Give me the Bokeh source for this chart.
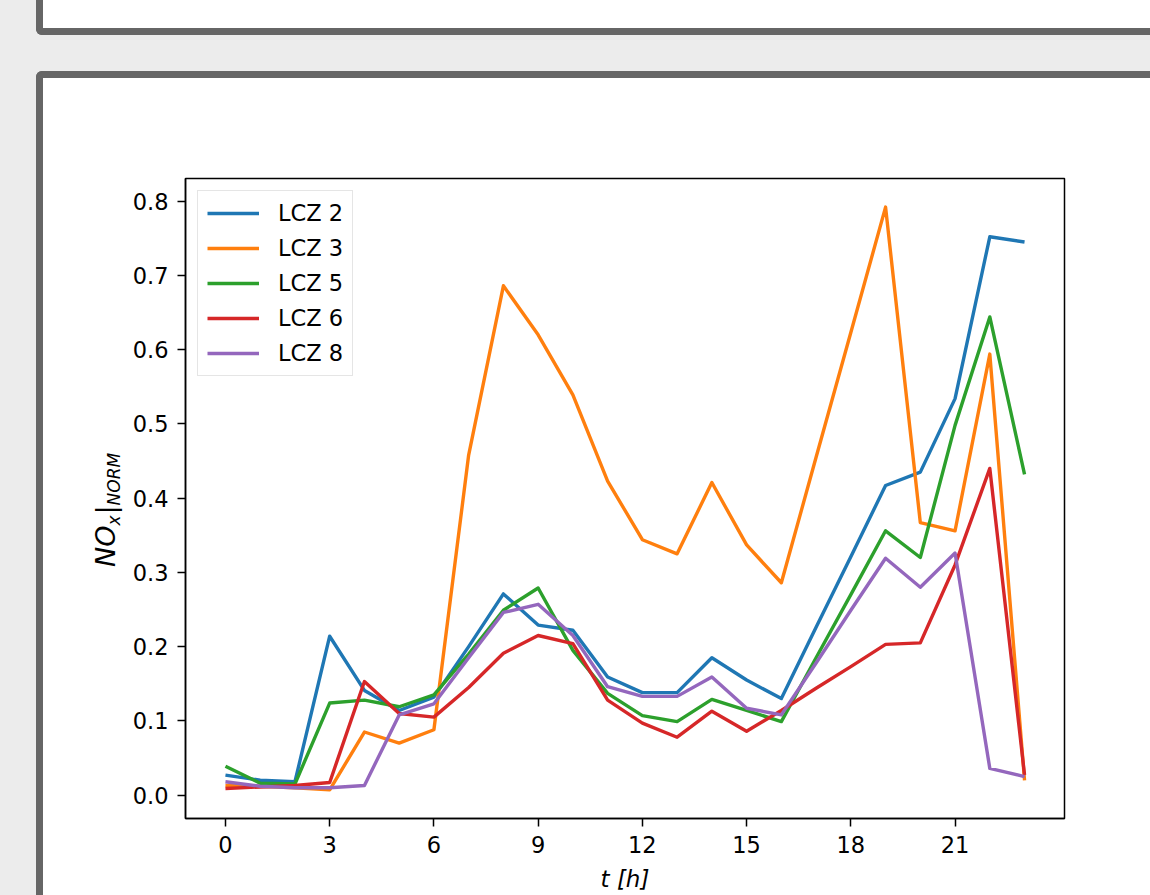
from bokeh.plotting import figure
from bokeh.layouts import column, row
from bokeh.models import (Div, FixedTicker, PrintfTickFormatter, Legend, LegendItem, Range1d)
from bokeh.embed import file_html
from bokeh.resources import INLINE

# ---- data ----
hours = list(range(24))
lcz2 = [0.027, 0.020, 0.018, 0.214, 0.141, 0.114, 0.132, 0.200, 0.271, 0.229, 0.222, 0.159,
        0.138, 0.138, 0.185, 0.155, 0.130, 0.226, 0.321, 0.417, 0.435, 0.534, 0.752, 0.745]
lcz3 = [0.013, 0.012, 0.010, 0.007, 0.085, 0.070, 0.088, 0.458, 0.686, 0.620, 0.539, 0.423,
        0.344, 0.325, 0.421, 0.337, 0.286, 0.455, 0.623, 0.792, 0.367, 0.356, 0.594, 0.020]
lcz5 = [0.039, 0.016, 0.015, 0.124, 0.128, 0.119, 0.135, 0.190, 0.249, 0.279, 0.195, 0.137,
        0.107, 0.099, 0.129, 0.114, 0.099, 0.185, 0.270, 0.356, 0.320, 0.498, 0.644, 0.432]
lcz6 = [0.009, 0.011, 0.013, 0.017, 0.153, 0.110, 0.105, 0.145, 0.191, 0.215, 0.204, 0.128,
        0.097, 0.078, 0.113, 0.086, 0.114, 0.144, 0.173, 0.203, 0.205, 0.310, 0.440, 0.027]
lcz8 = [0.018, 0.012, 0.010, 0.010, 0.013, 0.108, 0.123, 0.185, 0.246, 0.257, 0.215, 0.146,
        0.133, 0.133, 0.159, 0.117, 0.108, 0.178, 0.249, 0.319, 0.280, 0.326, 0.036, 0.025]

series_names = ["LCZ 2", "LCZ 3", "LCZ 5", "LCZ 6", "LCZ 8"]
series_values = [lcz2, lcz3, lcz5, lcz6, lcz8]
series_colors = ["#1f77b4", "#ff7f0e", "#2ca02c", "#d62728", "#9467bd"]

x_ticks = [0, 3, 6, 9, 12, 15, 18, 21]
y_ticks = [0.0, 0.1, 0.2, 0.3, 0.4, 0.5, 0.6, 0.7, 0.8]

W, H = 1150, 895
FONT = "DejaVu Sans"
PAGE_GREY = "#ececec"
FRAME_GREY = "#666666"

TOP_H = 78          # height of the strip above the main card content
LEFT_W = 43         # grey margin + card border on the left
YLAB_W = 82         # white strip holding the y-axis title
FIG_W = W - LEFT_W - YLAB_W
FIG_H = H - TOP_H

# ---- top strip: bottom of the previous card + top border of the main card ----
top_html = (
    f'<div style="position:relative;width:{W}px;height:{TOP_H}px;background:{PAGE_GREY};'
    f'overflow:hidden;margin:0;padding:0;">'
    f'<div style="position:absolute;left:36px;top:-30px;width:1300px;height:65px;'
    f'background:#fff;border-left:7px solid {FRAME_GREY};border-bottom:7px solid {FRAME_GREY};'
    f'border-bottom-left-radius:6px;box-sizing:border-box;"></div>'
    f'<div style="position:absolute;left:36px;top:71px;width:1300px;height:60px;'
    f'background:#fff;border-left:7px solid {FRAME_GREY};border-top:7px solid {FRAME_GREY};'
    f'border-top-left-radius:6px;box-sizing:border-box;"></div>'
    f'</div>'
)
top_div = Div(text=top_html, width=W, height=TOP_H, margin=0)

left_html = (
    f'<div style="width:{LEFT_W}px;height:{FIG_H}px;margin:0;padding:0;'
    f'background:linear-gradient(to right,{PAGE_GREY} 0px,{PAGE_GREY} 36px,'
    f'{FRAME_GREY} 36px,{FRAME_GREY} 43px);"></div>'
)
left_div = Div(text=left_html, width=LEFT_W, height=FIG_H, margin=0)

# ---- y-axis title NO_x |_NORM as real text, rotated ----
ylab_html = (
    f'<div style="position:relative;width:{YLAB_W}px;height:{FIG_H}px;background:#fff;'
    f'margin:0;padding:0;overflow:hidden;">'
    f'<div style="position:absolute;left:49px;top:489px;transform:rotate(-90deg);'
    f'transform-origin:0 0;white-space:nowrap;font-family:\'DejaVu Sans\';font-size:27px;'
    f'line-height:27px;color:#000;">'
    f'<i>NO</i><span style="font-size:17px;position:relative;top:5px;font-style:italic;">x</span>'
    f'<span style="padding-left:1px;">|</span>'
    f'<span style="font-size:17px;position:relative;top:5px;font-style:italic;">NORM</span>'
    f'</div></div>'
)
ylab_div = Div(text=ylab_html, width=YLAB_W, height=FIG_H, margin=0)

# ---- the chart ----
p = figure(width=FIG_W, height=FIG_H, output_backend="svg", toolbar_location=None,
           x_range=Range1d(-1.15, 24.15), y_range=Range1d(-0.0315, 0.8305),
           min_border_left=185 - LEFT_W - YLAB_W, min_border_right=86,
           min_border_top=178 - TOP_H, min_border_bottom=77, margin=0)
p.border_fill_color = "white"
p.background_fill_color = "white"
p.outline_line_color = "black"
p.outline_line_width = 1.5
p.grid.visible = False

items = []
for name, vals, col in zip(series_names, series_values, series_colors):
    r = p.line(hours, vals, line_color=col, line_width=3.4, line_join="round")
    items.append(LegendItem(label=name, renderers=[r]))

legend = Legend(items=items, location="top_left", margin=12,
                label_text_font=FONT, label_text_font_size="22.5px",
                label_text_color="black",
                glyph_width=52, glyph_height=26, label_height=26,
                spacing=9, padding=9, label_standoff=19,
                border_line_color="#cccccc", border_line_width=1.5,
                background_fill_color="white", background_fill_alpha=0.8)
p.add_layout(legend)

p.xaxis.ticker = FixedTicker(ticks=x_ticks)
p.xaxis.formatter = PrintfTickFormatter(format="%d")
p.yaxis.ticker = FixedTicker(ticks=y_ticks)
p.yaxis.formatter = PrintfTickFormatter(format="%.1f")
for ax in (p.xaxis[0], p.yaxis[0]):
    ax.major_tick_out = 8
    ax.major_tick_in = 0
    ax.minor_tick_out = 0
    ax.minor_tick_in = 0
    ax.major_tick_line_color = "black"
    ax.major_tick_line_width = 1.5
    ax.axis_line_color = "black"
    ax.axis_line_width = 1.5
    ax.major_label_text_font = FONT
    ax.major_label_text_font_size = "22.5px"
    ax.major_label_text_color = "black"
    ax.major_label_standoff = 9

p.xaxis.axis_label = "t [h]"
p.xaxis.axis_label_text_font = FONT
p.xaxis.axis_label_text_font_style = "italic"
p.xaxis.axis_label_text_font_size = "23px"
p.xaxis.axis_label_text_color = "black"
p.xaxis.axis_label_standoff = 10

layout = column(top_div, row(left_div, ylab_div, p, spacing=0, margin=0),
                spacing=0, margin=0)

open("out.html", "w").write(file_html(layout, INLINE))
